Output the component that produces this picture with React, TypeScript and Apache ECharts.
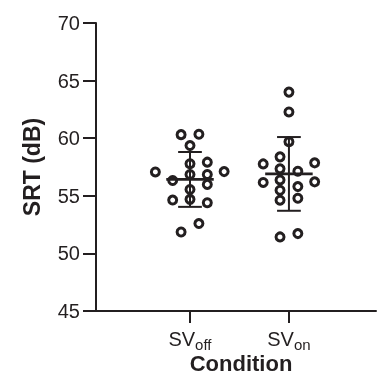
import React, { useEffect, useRef } from "react";
import * as echarts from "echarts";

// Condition categories (x positions 1 and 2)
const categories = ["off", "on"];
// SV_off: SRT values (dB) and horizontal jitter (category units)
const svOffValues = [60.31, 60.34, 59.36, 57.78, 57.92, 57.07, 57.1, 56.85, 56.85, 56.33, 55.99, 55.55, 54.69, 54.63, 54.4, 52.59, 51.86];
const svOffJitter = [-0.09, 0.09, 0, 0, 0.175, -0.35, 0.345, 0, 0.175, -0.175, 0.175, 0, 0, -0.175, 0.175, 0.09, -0.09];
// SV_on
const svOnValues = [64.0, 62.28, 59.7, 58.38, 57.77, 57.86, 57.34, 57.13, 56.16, 56.21, 56.38, 55.48, 55.8, 54.62, 54.79, 51.43, 51.72];
const svOnJitter = [0, 0, 0, -0.09, -0.26, 0.26, -0.09, 0.09, -0.26, 0.26, -0.09, -0.09, 0.09, -0.09, 0.09, -0.09, 0.09];
// Mean and SD per condition
const means = [56.42, 56.9];
const sds = [2.38, 3.2];
// Y axis ticks
const yMin = 45;
const yMax = 70;
const yStep = 5;

const INK = "#231f20";
const FONT = "'Liberation Sans', Arial, Helvetica, sans-serif";

export default function App() {
  const ref = useRef<HTMLDivElement>(null);
  useEffect(() => {
    if (!ref.current) return;
    const chart = echarts.init(ref.current, undefined, { renderer: "svg" });
    const pts = [
      ...svOffValues.map((v, i) => [1 + svOffJitter[i], v]),
      ...svOnValues.map((v, i) => [2 + svOnJitter[i], v]),
    ];
    const stats = means.map((m, i) => [i + 1, m, sds[i]]);
    chart.setOption({
      animation: false,
      grid: { left: 96, right: 1, top: 23, bottom: 64, containLabel: false, outerBoundsMode: "none" },
      xAxis: {
        type: "value",
        min: 0.05,
        max: 2.88,
        splitLine: { show: false },
        axisLine: { onZero: false, lineStyle: { color: INK, width: 2 } },
        axisTick: { customValues: [1, 2], length: 12, lineStyle: { color: INK, width: 2 } },
        axisLabel: {
          customValues: [1, 2],
          margin: 20,
          formatter: (v: number) => "{a|SV}{b|" + categories[Math.round(v) - 1] + "}",
          rich: {
            a: { fontSize: 20, fontFamily: FONT, color: INK, lineHeight: 16 },
            b: { fontSize: 15, fontFamily: FONT, color: INK, lineHeight: 16, padding: [10, 0, 0, 0] },
          },
        },
        name: "Condition",
        nameLocation: "middle",
        nameMoveOverlap: false,
        nameGap: 41,
        nameTextStyle: { fontSize: 22, fontWeight: "bold", fontFamily: FONT, color: INK, padding: [0, 0, 0, 10] },
      },
      yAxis: {
        type: "value",
        min: yMin,
        max: yMax,
        interval: yStep,
        splitLine: { show: false },
        axisLine: { show: true, onZero: false, lineStyle: { color: INK, width: 2 } },
        axisTick: { show: true, length: 13, lineStyle: { color: INK, width: 2 } },
        axisLabel: { fontSize: 20, fontFamily: FONT, color: INK, margin: 16 },
        name: "SRT (dB)",
        nameLocation: "middle",
        nameMoveOverlap: false,
        nameGap: 53,
        nameTextStyle: { fontSize: 23, fontWeight: "bold", fontFamily: FONT, color: INK },
      },
      series: [
        {
          type: "scatter",
          data: pts,
          symbol: "circle",
          symbolSize: 8,
          itemStyle: { color: "rgba(0,0,0,0)", borderColor: INK, borderWidth: 3, opacity: 1 },
          z: 2,
        },
        {
          type: "custom",
          data: stats,
          z: 3,
          renderItem: (params: any, api: any) => {
            const x = api.value(0);
            const m = api.value(1);
            const s = api.value(2);
            const c = api.coord([x, m]);
            const t = api.coord([x, m + s]);
            const b = api.coord([x, m - s]);
            const halfMean = api.size([0.24, 0])[0];
            const halfCap = api.size([0.12, 0])[0];
            const st = { stroke: INK, lineWidth: 2 };
            return {
              type: "group",
              children: [
                { type: "line", shape: { x1: t[0], y1: t[1], x2: b[0], y2: b[1] }, style: st },
                { type: "line", shape: { x1: t[0] - halfCap, y1: t[1], x2: t[0] + halfCap, y2: t[1] }, style: st },
                { type: "line", shape: { x1: b[0] - halfCap, y1: b[1], x2: b[0] + halfCap, y2: b[1] }, style: st },
                { type: "line", shape: { x1: c[0] - halfMean, y1: c[1], x2: c[0] + halfMean, y2: c[1] }, style: { stroke: INK, lineWidth: 2.8 } },
              ],
            };
          },
        },
      ],
    });
    return () => chart.dispose();
  }, []);
  return <div ref={ref} style={{ position: "fixed", left: 0, top: 0, width: 377, height: 375 }} />;
}
